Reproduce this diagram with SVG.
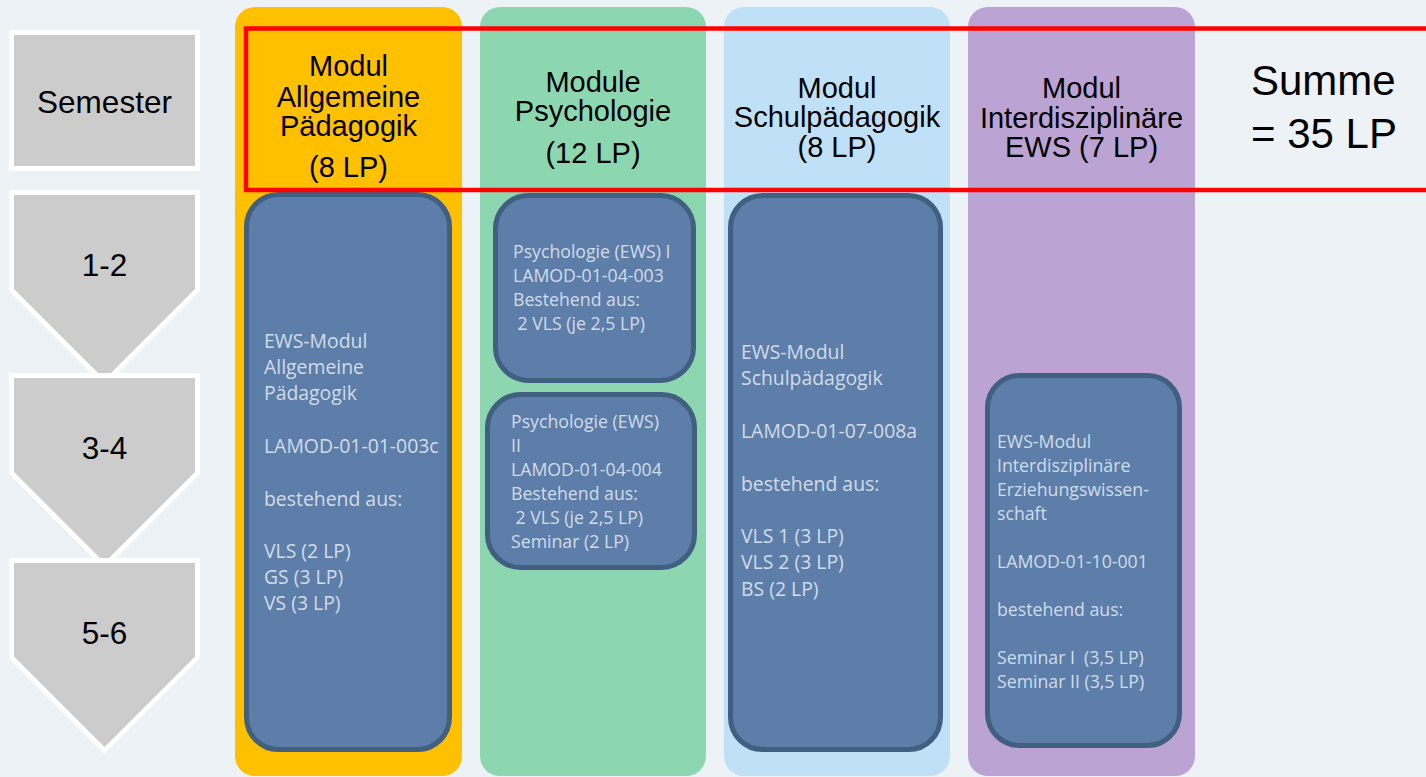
<svg xmlns="http://www.w3.org/2000/svg" width="1426" height="777" viewBox="0 0 1426 777">
<style>
.sem{fill:#CCCCCC;stroke:#FFFFFF;stroke-width:5;stroke-linejoin:miter}
.st{font-family:"Liberation Sans",Arial,sans-serif;font-size:31.5px;fill:#000;text-anchor:middle}
.hd{font-family:"Liberation Sans",Arial,sans-serif;font-size:29px;fill:#000;text-anchor:middle}
.sum{font-family:"Liberation Sans",Arial,sans-serif;font-size:42px;fill:#000}
.box{fill:#5C7EA9;stroke:#415F80;stroke-width:5}
.bt{font-family:"Open Sans",sans-serif;fill:#D3DCEA;white-space:pre}
.b1{font-size:19.4px}
.b2{font-size:17.7px}
</style>
<rect width="1426" height="777" fill="#EDF2F7"/>
<g id="semester">
<rect class="sem" x="11.5" y="32.5" width="186" height="136"/>
<text class="st" x="104.5" y="113">Semester</text>
</g>
<g id="sem12">
<polygon class="sem" points="11.5,192.5 197.5,192.5 197.5,290 104.5,383 11.5,290"/>
<text class="st" x="104.5" y="276">1-2</text>
</g>
<g id="sem34">
<polygon class="sem" points="11.5,375.5 197.5,375.5 197.5,473 104.5,566 11.5,473"/>
<text class="st" x="104.5" y="459">3-4</text>
</g>
<g id="sem56">
<polygon class="sem" points="11.5,560.5 197.5,560.5 197.5,657.5 104.5,750.5 11.5,657.5"/>
<text class="st" x="104.5" y="644">5-6</text>
</g>
<g id="col-allg">
<rect x="235" y="7" width="227" height="769" rx="20" fill="#FFC000"/>
<text class="hd" x="348.5" y="76">Modul</text>
<text class="hd" x="348.5" y="107">Allgemeine</text>
<text class="hd" x="348.5" y="136">Pädagogik</text>
<text class="hd" x="348.5" y="177">(8 LP)</text>
</g>
<g id="col-psych">
<rect x="480" y="7" width="226" height="769" rx="20" fill="#8DD7B0"/>
<text class="hd" x="593" y="92">Module</text>
<text class="hd" x="593" y="121">Psychologie</text>
<text class="hd" x="593" y="163">(12 LP)</text>
</g>
<g id="col-schul">
<rect x="724" y="7" width="226" height="769" rx="20" fill="#C0E0F7"/>
<text class="hd" x="837" y="98">Modul</text>
<text class="hd" x="837" y="127">Schulpädagogik</text>
<text class="hd" x="837" y="157">(8 LP)</text>
</g>
<g id="col-inter">
<rect x="968" y="7" width="227" height="769" rx="20" fill="#BBA4D3"/>
<text class="hd" x="1081.5" y="98">Modul</text>
<text class="hd" x="1081.5" y="128">Interdisziplinäre</text>
<text class="hd" x="1081.5" y="157">EWS (7 LP)</text>
</g>
<g id="summe">
<text class="sum" x="1251" y="95">Summe</text>
<text class="sum" x="1251" y="148">= 35 LP</text>
</g>
<g id="box-allg">
<rect class="box" x="246.5" y="194.5" width="203" height="555" rx="32"/>
<text class="bt b1">
<tspan x="264" y="348">EWS-Modul</tspan>
<tspan x="264" y="374">Allgemeine</tspan>
<tspan x="264" y="400">Pädagogik</tspan>
<tspan x="264" y="453">LAMOD-01-01-003c</tspan>
<tspan x="264" y="506">bestehend aus:</tspan>
<tspan x="264" y="558">VLS (2 LP)</tspan>
<tspan x="264" y="584">GS (3 LP)</tspan>
<tspan x="264" y="610">VS (3 LP)</tspan>
</text>
</g>
<g id="box-psych1">
<rect class="box" x="495.5" y="195.5" width="198" height="185" rx="33"/>
<text class="bt b2">
<tspan x="513" y="258">Psychologie (EWS) I</tspan>
<tspan x="513" y="282">LAMOD-01-04-003</tspan>
<tspan x="513" y="306">Bestehend aus:</tspan>
<tspan x="513" y="330"> 2 VLS (je 2,5 LP)</tspan>
</text>
</g>
<g id="box-psych2">
<rect class="box" x="487.5" y="394.5" width="207" height="173" rx="33"/>
<text class="bt b2">
<tspan x="511" y="428">Psychologie (EWS)</tspan>
<tspan x="511" y="452">II</tspan>
<tspan x="511" y="476">LAMOD-01-04-004</tspan>
<tspan x="511" y="500">Bestehend aus:</tspan>
<tspan x="511" y="524"> 2 VLS (je 2,5 LP)</tspan>
<tspan x="511" y="548">Seminar (2 LP)</tspan>
</text>
</g>
<g id="box-schul">
<rect class="box" x="730.5" y="195.5" width="210" height="554" rx="32"/>
<text class="bt b1">
<tspan x="741" y="359">EWS-Modul</tspan>
<tspan x="741" y="385">Schulpädagogik</tspan>
<tspan x="741" y="438">LAMOD-01-07-008a</tspan>
<tspan x="741" y="491">bestehend aus:</tspan>
<tspan x="741" y="543">VLS 1 (3 LP)</tspan>
<tspan x="741" y="569">VLS 2 (3 LP)</tspan>
<tspan x="741" y="596">BS (2 LP)</tspan>
</text>
</g>
<g id="box-inter">
<rect class="box" x="987.5" y="375.5" width="192" height="370" rx="32"/>
<text class="bt b2">
<tspan x="997" y="448">EWS-Modul</tspan>
<tspan x="997" y="472">Interdisziplinäre</tspan>
<tspan x="997" y="496">Erziehungswissen-</tspan>
<tspan x="997" y="520">schaft</tspan>
<tspan x="997" y="568">LAMOD-01-10-001</tspan>
<tspan x="997" y="616">bestehend aus:</tspan>
<tspan x="997" y="664">Seminar I  (3,5 LP)</tspan>
<tspan x="997" y="688">Seminar II (3,5 LP)</tspan>
</text>
</g>
<g id="connectors"/>
<g id="highlight">
<rect x="246" y="28.5" width="1200" height="161.5" fill="none" stroke="#FF0000" stroke-width="4.5"/>
</g>
</svg>
